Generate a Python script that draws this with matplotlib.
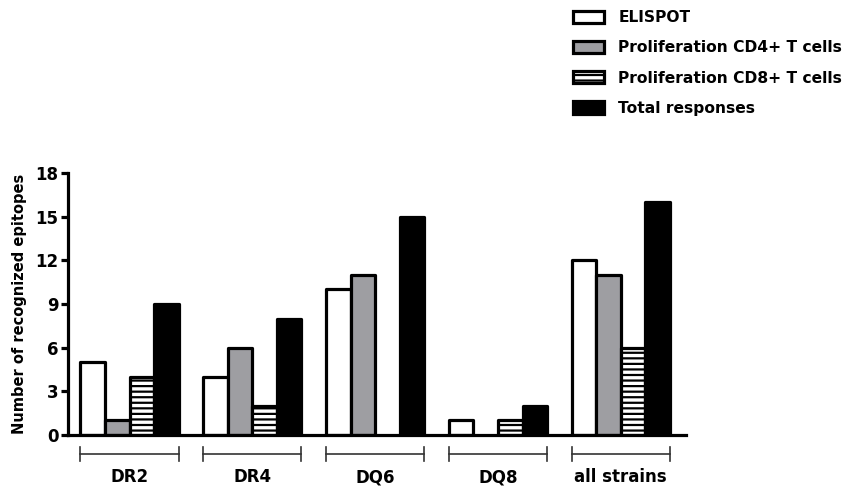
#!/usr/bin/env python3
"""Recognized epitopes per HLA strain, bar chart with bracketed groups."""

import matplotlib

matplotlib.use("Agg")
import matplotlib.pyplot as plt
import numpy as np
from matplotlib.patches import Patch

groups = ["DR2", "DR4", "DQ6", "DQ8", "all strains"]
series_names = [
    "ELISPOT",
    "Proliferation CD4+ T cells",
    "Proliferation CD8+ T cells",
    "Total responses",
]
elispot = [5, 4, 10, 1, 12]
prolif_cd4 = [1, 6, 11, 0, 11]
prolif_cd8 = [4, 2, 0, 1, 6]
total = [9, 8, 15, 2, 16]
yticks = [0, 3, 6, 9, 12, 15, 18]

GRAY = "#9e9ea2"
STYLES = [
    dict(facecolor="white", hatch=None),
    dict(facecolor=GRAY, hatch=None),
    dict(facecolor="white", hatch="---"),
    dict(facecolor="black", hatch=None),
]

plt.rcParams.update(
    {
        "font.family": ["DejaVu Sans"],
        "font.weight": "bold",
        "hatch.linewidth": 1.6,
        "hatch.color": "black",
    }
)

fig = plt.figure(figsize=(8.52, 4.88), dpi=100)
ax = fig.add_axes([0.080, 0.1086, 0.725, 0.537])

x = np.arange(len(groups))
width = 0.2
offsets = [-0.3, -0.1, 0.1, 0.3]
values = [elispot, prolif_cd4, prolif_cd8, total]

for vals, off, st in zip(values, offsets, STYLES):
    for xi, v in zip(x, vals):
        if v == 0:
            continue
        ax.bar(
            xi + off,
            v,
            width=width,
            facecolor=st["facecolor"],
            edgecolor="black",
            linewidth=2.3,
            hatch=st["hatch"],
            joinstyle="round",
        )

ax.set_xlim(-0.5, 4.53)
ax.set_ylim(0, 18)
ax.set_yticks(yticks)
ax.set_yticklabels([str(t) for t in yticks], fontsize=12, fontweight="bold")
ax.set_xticks([])
ax.spines["top"].set_visible(False)
ax.spines["right"].set_visible(False)
ax.spines["left"].set_linewidth(2.3)
ax.spines["bottom"].set_linewidth(2.3)
ax.tick_params(axis="y", direction="out", length=5, width=2.3, pad=2)
ax.set_ylabel("Number of recognized epitopes", fontsize=10.5, fontweight="bold", labelpad=6)

# brackets under each group
for xi, name in zip(x, groups):
    left, right = xi - 0.4, xi + 0.4
    yb = -1.30
    ax.plot([left, right], [yb, yb], color="#333333", lw=1.2, clip_on=False)
    ax.plot([left, left], [yb - 0.5, yb + 0.5], color="#333333", lw=1.2, clip_on=False)
    ax.plot([right, right], [yb - 0.5, yb + 0.5], color="#333333", lw=1.2, clip_on=False)
    ax.text(xi, -2.9, name, ha="center", va="center", fontsize=12, fontweight="bold")

handles = [
    Patch(facecolor=st["facecolor"], edgecolor="black", linewidth=2.3, hatch=st["hatch"])
    for st in STYLES
]
fig.legend(
    handles,
    series_names,
    loc="upper left",
    bbox_to_anchor=(0.656, 1.008),
    frameon=False,
    handlelength=1.97,
    handleheight=0.83,
    handletextpad=0.96,
    labelspacing=0.98,
    prop={"weight": "bold", "size": 11.2},
)

fig.savefig("out.png", dpi=100)
